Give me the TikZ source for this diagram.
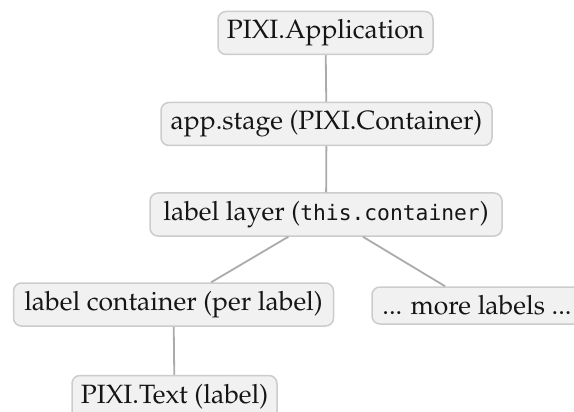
\documentclass[tikz,border=0pt]{standalone}
\usepackage[T1]{fontenc}
\usepackage{fontspec}
\newfontfamily\dmono{DejaVu Sans Mono}
\newcommand{\palfont}{\fontencoding{T1}\fontfamily{ppl}\selectfont}
\definecolor{boxfill}{HTML}{F1F1F1}
\definecolor{boxline}{HTML}{CCCCCC}
\definecolor{edgecol}{HTML}{ABABAB}
\definecolor{txtcol}{HTML}{151515}
\tikzset{
  treebox/.style={draw=boxline, fill=boxfill, line width=1.5pt, rounded corners=8pt,
    minimum height=43pt, inner sep=0pt, text=txtcol,
    font=\palfont\fontsize{26.5}{31}\selectfont},
  treeedge/.style={draw=edgecol, line width=1.8pt}
}
\begin{document}
\begin{tikzpicture}[x=1pt,y=-1pt]
\useasboundingbox (0,0) rectangle (574,412);
\node[treebox, minimum width=215pt] (app) at (325.5,33) {PIXI.Application};
\node[treebox, minimum width=331pt] (stage) at (326.5,124) {app.stage (PIXI.Container)};
\node[treebox, minimum width=352pt] (layer) at (326,214.5) {label layer ({\dmono\fontsize{21.3}{25}\selectfont this.container})};
\node[treebox, minimum width=320pt] (cont) at (173.5,304.5) {label container (per label)};
\node[treebox, minimum width=210pt, minimum height=37pt] (more) at (477,305.5) {... more labels ...};
\node[treebox, minimum width=205pt] (ptext) at (174.5,397) {PIXI.Text (label)};
\draw[treeedge] (app) -- (stage);
\draw[treeedge] (stage) -- (layer);
\draw[treeedge] (layer) -- (cont);
\draw[treeedge] (layer) -- (more);
\draw[treeedge] (cont) -- (ptext);
\end{tikzpicture}
\end{document}
